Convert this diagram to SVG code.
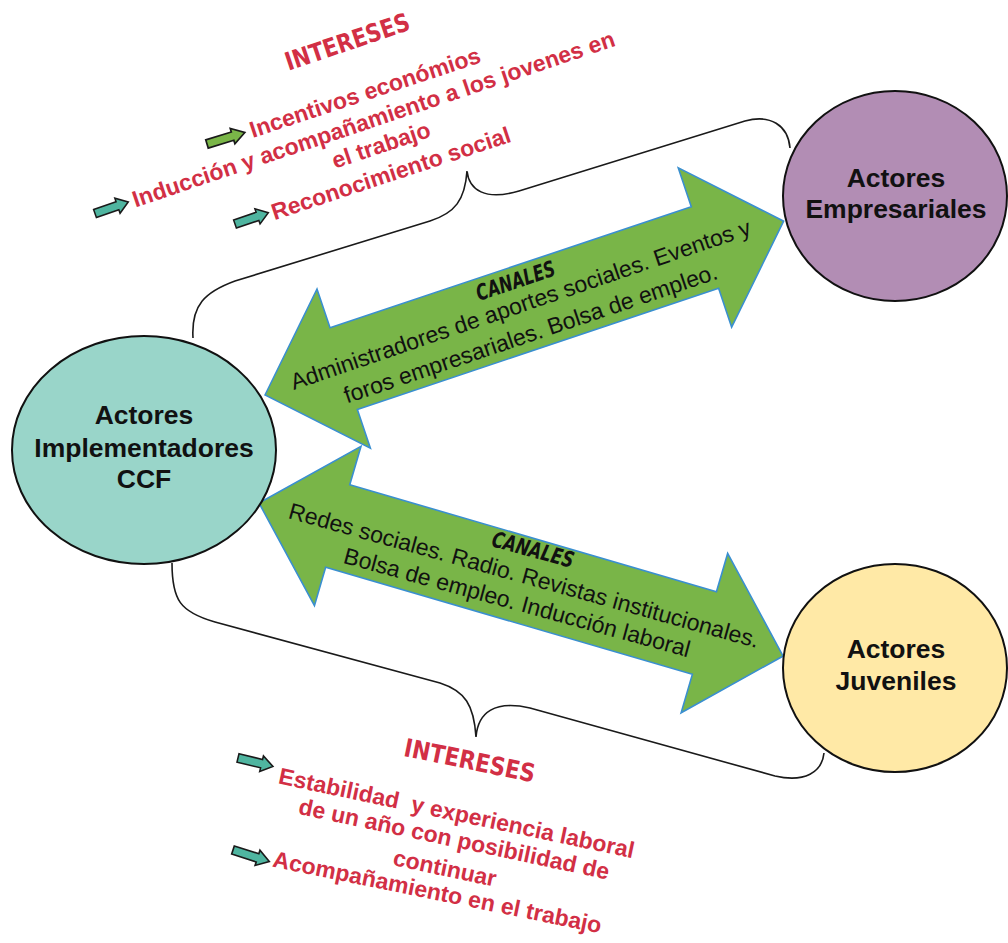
<svg xmlns="http://www.w3.org/2000/svg" xmlns:xlink="http://www.w3.org/1999/xlink" width="1008" height="943" viewBox="0 0 1008 943">
<style>
.node{stroke:#111;stroke-width:2}
.ntext{font-family:"Liberation Sans",Arial,sans-serif;font-weight:bold;font-size:26.5px;fill:#111;text-anchor:middle}
.brace{fill:none;stroke:#1a1a1a;stroke-width:1.6}
.big{fill:#79b548;stroke:#3a8fd0;stroke-width:1.6;stroke-linejoin:miter}
.chan{font-family:"Liberation Sans",Arial,sans-serif;font-size:23px;fill:#111;text-anchor:middle}
.canal{font-family:"DejaVu Sans Condensed","DejaVu Sans",sans-serif;font-weight:bold;font-style:oblique;font-size:22px;fill:#111;text-anchor:middle}
.red{font-family:"Liberation Sans",Arial,sans-serif;font-weight:bold;font-size:23px;fill:#d22f45;text-anchor:middle}
.redh{font-family:"DejaVu Sans Condensed","DejaVu Sans",sans-serif;font-weight:bold;font-size:25px;fill:#d22f45;text-anchor:middle}
.sa{stroke:#1a1a1a;stroke-width:1.6;stroke-linejoin:miter}
</style>
<defs>
<path id="sarrow" d="M0,-4.3 L25,-4.3 L25,-8 L37,0 L25,8 L25,4.3 L0,4.3 Z"/>
</defs>
<rect width="1008" height="943" fill="#ffffff"/>

<g id="connectors">
<path class="brace" d="M193,338 C191,305 205,292 235,281 L430,221 C455,213 465,200 467,171 C469,190 485,201 519,191 L745,121 C770,114 788,125 790,148"/>
<path class="brace" d="M172,563 C172,600 180,612 215,622 L440,683 C465,691 474,705 476,737 C478,712 495,700 530,708 L775,776 C805,783 822,772 824,753"/>
<path class="big" transform="translate(265,395) rotate(-18.53)" d="M0,0 L83,-84 L83,-43 L464,-43 L464,-84 L547,0 L464,84 L464,43 L83,43 L83,84 Z"/>
<path class="big" transform="translate(259,503) rotate(16.28)" d="M0,0 L82,-83 L82,-43 L464,-43 L464,-83 L546,0 L464,83 L464,43 L82,43 L82,83 Z"/>
</g>

<g id="canales-top">
<text class="canal" transform="translate(518,288) rotate(-18.5)" textLength="82" lengthAdjust="spacingAndGlyphs">CANALES</text>
<text class="chan" transform="translate(523,312) rotate(-18.8)">Administradores de aportes sociales. Eventos y</text>
<text class="chan" transform="translate(533,341) rotate(-18.6)">foros empresariales. Bolsa de empleo.</text>
</g>

<g id="canales-bottom">
<text class="canal" transform="translate(531,557) rotate(15.3)" textLength="84" lengthAdjust="spacingAndGlyphs">CANALES</text>
<text class="chan" transform="translate(522,583) rotate(15.5)">Redes sociales. Radio. Revistas institucionales.</text>
<text class="chan" transform="translate(515,610) rotate(15.3)">Bolsa de empleo. Inducción laboral</text>
</g>

<g id="node-implementadores">
<ellipse class="node" cx="144" cy="450" rx="132" ry="114" fill="#99d5c9"/>
<text class="ntext" x="144" y="424">Actores</text>
<text class="ntext" x="144" y="457">Implementadores</text>
<text class="ntext" x="144" y="488">CCF</text>
</g>

<g id="node-empresariales">
<ellipse class="node" cx="895" cy="196" rx="112" ry="105" fill="#b28db4"/>
<text class="ntext" x="896" y="187">Actores</text>
<text class="ntext" x="896" y="218">Empresariales</text>
</g>

<g id="node-juveniles">
<ellipse class="node" cx="895" cy="668" rx="112" ry="104" fill="#ffe9a6"/>
<text class="ntext" x="896" y="658">Actores</text>
<text class="ntext" x="896" y="690">Juveniles</text>
</g>

<g id="intereses-top">
<text class="redh" transform="translate(350,50) rotate(-18.7)" textLength="130" lengthAdjust="spacingAndGlyphs">INTERESES</text>
<use xlink:href="#sarrow" class="sa" fill="#7ab648" transform="translate(207,144) rotate(-17) scale(1.07,1)"/>
<text class="red" transform="translate(367.5,100) rotate(-18.3)">Incentivos económios</text>
<use xlink:href="#sarrow" class="sa" fill="#4fb5a0" transform="translate(95,213.5) rotate(-19) scale(0.95,1)"/>
<text class="red" transform="translate(376,126.5) rotate(-18.6)">Inducción y acompañamiento a los jovenes en</text>
<text class="red" transform="translate(383.5,152.5) rotate(-18.5)">el trabajo</text>
<use xlink:href="#sarrow" class="sa" fill="#4fb5a0" transform="translate(235,224) rotate(-18.7) scale(0.95,1)"/>
<text class="red" transform="translate(393.3,180.8) rotate(-18.3)">Reconocimiento social</text>
</g>

<g id="intereses-bottom">
<text class="redh" transform="translate(468,769) rotate(11.6)" textLength="133" lengthAdjust="spacingAndGlyphs">INTERESES</text>
<use xlink:href="#sarrow" class="sa" fill="#4fb5a0" transform="translate(238,758) rotate(13.5) scale(0.97,1)"/>
<text class="red" xml:space="preserve" transform="translate(455,820.8) rotate(11.9)">Estabilidad  y experiencia laboral</text>
<text class="red" transform="translate(452.5,846.7) rotate(12)">de un año con posibilidad de</text>
<text class="red" transform="translate(443.3,875.8) rotate(12)">continuar</text>
<use xlink:href="#sarrow" class="sa" fill="#4fb5a0" transform="translate(233,850) rotate(17.7) scale(1.03,1)"/>
<text class="red" transform="translate(435.8,900) rotate(11.5)">Acompañamiento en el trabajo</text>
</g>
</svg>
